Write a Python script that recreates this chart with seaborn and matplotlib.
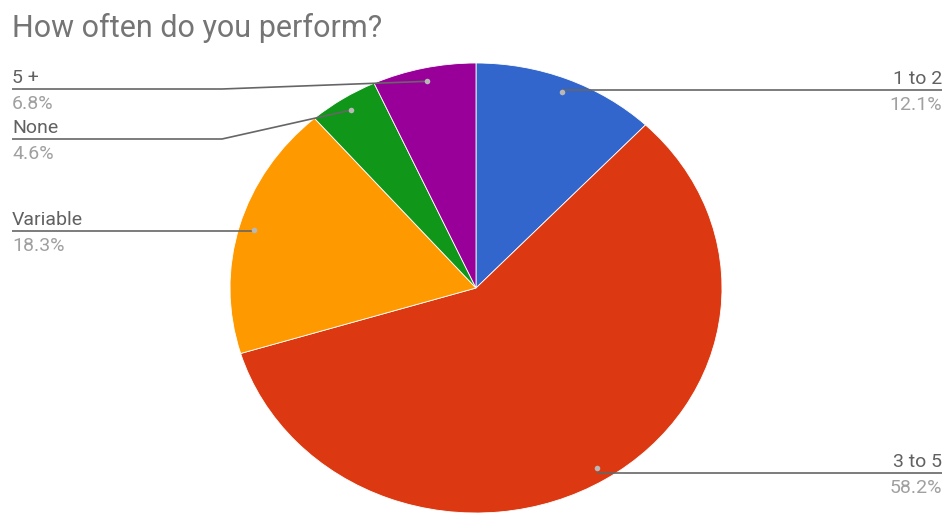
import numpy as np
import matplotlib
matplotlib.use("Agg")
import matplotlib.pyplot as plt
import seaborn as sns

# Survey answers and their shares (%)
categories = ["1 to 2", "3 to 5", "Variable", "None", "5 +"]
shares = [12.1, 58.2, 18.3, 4.6, 6.8]
pct_labels = ["12.1%", "58.2%", "18.3%", "4.6%", "6.8%"]
colors = ["#3366CC", "#DC3912", "#FF9900", "#109618", "#990099"]

W, H = 946, 513
CX, CY = 476, 288          # pie centre in pixels
RX, RY = 246, 225          # horizontal / vertical radius in pixels

sns.set_theme(style="white")
plt.rcParams["font.family"] = ["Roboto", "DejaVu Sans"]

fig = plt.figure(figsize=(W / 100, H / 100), dpi=100)
ax = fig.add_axes([0, 0, 1, 1])


def P(px, py):
    """pixel position -> data coordinates (unit = pie radius on each axis)"""
    return px / RX, (H - py) / RY


wedges, _ = ax.pie(shares, colors=colors, startangle=90, counterclock=False,
                   center=P(CX, CY), radius=1,
                   wedgeprops=dict(linewidth=0.6, edgecolor="white"))
ax.set_aspect("auto")
ax.set_xlim(0, W / RX)
ax.set_ylim(0, H / RY)
ax.axis("off")

# anchor dot on each slice, at the middle angle
cx, cy = P(CX, CY)
anchors = []
for w in wedges:
    mid = np.deg2rad((w.theta1 + w.theta2) / 2)
    anchors.append((cx + 0.94 * np.cos(mid), cy + 0.94 * np.sin(mid)))

LINE = "#666666"
LAB = "#616161"
PCT = "#a0a0a0"
FS = 14

# label layout: (line y in px, side, elbow x in px or None)
layout = {
    "1 to 2": (90, "right", None),
    "3 to 5": (473, "right", None),
    "Variable": (231, "left", None),
    "None": (139, "left", 222),
    "5 +": (89, "left", 222),
}

for name, pct, (axx, ayy) in zip(categories, pct_labels, anchors):
    ly, side, elbow = layout[name]
    _, y_line = P(0, ly)
    if side == "right":
        xe, _ = P(942, 0)
        xs = [axx, xe]
        ys = [y_line, y_line]
        tx, ha = xe, "right"
    else:
        x0, _ = P(12, 0)
        if elbow is None:
            xs = [axx, x0]
            ys = [y_line, y_line]
        else:
            xb, _ = P(elbow, 0)
            xs = [axx, xb, x0]
            ys = [ayy, y_line, y_line]
        tx, ha = x0, "left"
    ax.plot(xs, ys, color=LINE, lw=1.2, solid_capstyle="butt", zorder=3)
    ax.plot([axx], [ayy], "o", ms=4, color="#b8b8b8", mec="none", zorder=4)
    ax.text(tx, P(0, ly - 6)[1], name, ha=ha, va="baseline",
            fontsize=FS, color=LAB)
    ax.text(tx, P(0, ly + 20)[1], pct, ha=ha, va="baseline",
            fontsize=FS, color=PCT)

ax.text(*P(12, 37), "How often do you perform?", ha="left", va="baseline",
        fontsize=22, color="#757575")

fig.savefig("out.png", dpi=100, facecolor="white")
